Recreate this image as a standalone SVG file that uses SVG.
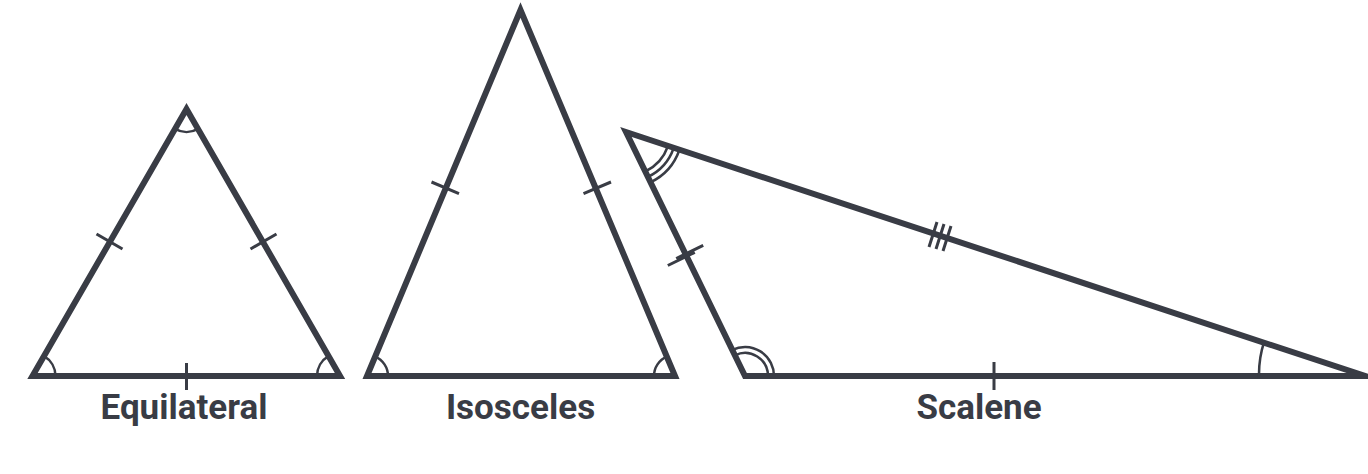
<svg xmlns="http://www.w3.org/2000/svg" width="1368" height="474" viewBox="0 0 1368 474">
<style>
.tri{fill:none;stroke:#393c45;stroke-width:6;stroke-linejoin:miter;stroke-miterlimit:10}
.tick{stroke:#393c45;stroke-width:3;fill:none}
.arc{stroke:#393c45;stroke-width:2.5;fill:none}
.lbl{font-family:Roboto,"Liberation Sans",sans-serif;font-weight:bold;font-size:35px;fill:#393c45;text-anchor:middle}
</style>
<rect width="1368" height="474" fill="#ffffff"/>
<g id="equilateral">
<polygon class="tri" points="32.5,376 340,376 186.5,109"/>
<path class="tick" d="M96.5,234 L122.5,249 M250.5,249 L276.5,234 M186.5,363 L186.5,390"/>
<path class="arc" d="M198,128.9 A23,23 0 0 1 175,128.9 M55.5,376 A23,23 0 0 0 44,356.1 M317,376 A23,23 0 0 1 328.5,356.1"/>
<text class="lbl" x="184" y="419">Equilateral</text>
</g>
<g id="isosceles">
<polygon class="tri" points="367,376 675,376 520.5,10"/>
<path class="tick" d="M431.5,182 L459,193.6 M583.5,193.6 L611,182"/>
<path class="arc" d="M388,376 A21,21 0 0 0 375.1,356.6 M654,376 A21,21 0 0 1 666.9,356.6"/>
<text class="lbl" x="520.5" y="419">Isosceles</text>
</g>
<g id="scalene">
<polygon class="tri" points="626,132 745,376 1365,376"/>
<path class="tick" d="M667.8,265.5 L694.8,252.3 M676.2,258.5 L703.2,245.3 M994,362 L994,390 M937,222 L929,247 M944,224 L936,249 M951,226 L943,251"/>
<path class="arc" d="M645.3,171.5 A44,44 0 0 0 667.8,146.5 M647.9,176.9 A50,50 0 0 0 673.5,148.5 M650.5,182.3 A56,56 0 0 0 679.2,150.5 M768,376 A23,23 0 0 0 735,355.3 M774,376 A29,29 0 0 0 732.3,349.9 M1259,376 A106,106 0 0 1 1264.4,341"/>
<text class="lbl" x="979" y="419">Scalene</text>
</g>
</svg>
